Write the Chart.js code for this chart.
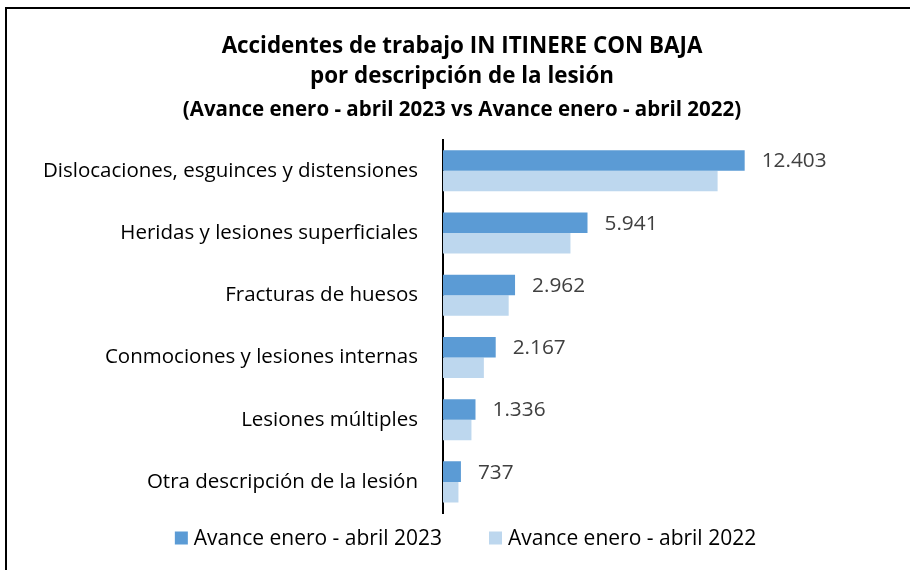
<!DOCTYPE html>
<html>
<head>
<meta charset="utf-8">
<script src="https://cdn.jsdelivr.net/npm/chart.js@4/dist/chart.umd.min.js"></script>
<style>
  html, body { margin: 0; padding: 0; background: #ffffff; }
  #wrap { width: 910px; height: 570px; position: relative; }
</style>
</head>
<body>
<div id="wrap"><canvas id="c" width="910" height="570"></canvas></div>
<script>
const categories = [
  "Dislocaciones, esguinces y distensiones",
  "Heridas y lesiones superficiales",
  "Fracturas de huesos",
  "Conmociones y lesiones internas",
  "Lesiones múltiples",
  "Otra descripción de la lesión"
];
const seriesNames = ["Avance enero - abril 2023", "Avance enero - abril 2022"];
const values2023 = [12403, 5941, 2962, 2167, 1336, 737];
const values2022 = [11290, 5240, 2700, 1680, 1170, 635];
const titleLines = ["Accidentes de trabajo IN ITINERE CON BAJA", "por descripción de la lesión"];
const subtitleText = "(Avance enero - abril 2023 vs Avance enero - abril 2022)";

const FONT = "'Open Sans', 'Noto Sans', Lato, sans-serif";
const colors = ["#5B9BD5", "#BDD7EE"];

// fit font sizes to the widths of the texts in the reference
const mctx = document.createElement("canvas").getContext("2d");
function fitSize(text, weight, target) {
  mctx.font = weight + " 100px " + FONT;
  return Math.round(100 * target / mctx.measureText(text).width * 10) / 10;
}
const labelSize = fitSize(categories[0], "normal", 376);
const titleSize = fitSize(titleLines[0], "bold", 480);
const subSize = fitSize(subtitleText, "bold", 557);
const valueSize = fitSize("12.403", "normal", 65);
const legendSize = fitSize(seriesNames[0], "normal", 248);

function fmt(v) {
  return String(v).replace(/\B(?=(\d{3})+(?!\d))/g, ".");
}

const framePlugin = {
  id: "frame",
  beforeDraw(chart) {
    const ctx = chart.ctx;
    ctx.save();
    ctx.fillStyle = "#ffffff";
    ctx.fillRect(0, 0, chart.width, chart.height);
    ctx.fillStyle = "#000000";
    ctx.fillRect(5, 7, chart.width - 5, 2);
    ctx.fillRect(5, 7, 2, chart.height - 7);
    ctx.restore();
  }
};

const labelPlugin = {
  id: "valueLabels",
  afterDatasetsDraw(chart) {
    const ctx = chart.ctx;
    const meta = chart.getDatasetMeta(0);
    ctx.save();
    ctx.font = valueSize + "px " + FONT;
    ctx.fillStyle = "#404040";
    ctx.textAlign = "left";
    ctx.textBaseline = "middle";
    meta.data.forEach((el, i) => {
      ctx.fillText(fmt(chart.data.datasets[0].data[i]), el.x + 17, el.y + 1);
    });
    ctx.restore();
  }
};

const legendPlugin = {
  id: "customLegend",
  afterDraw(chart) {
    const ctx = chart.ctx;
    ctx.save();
    ctx.font = legendSize + "px " + FONT;
    ctx.textBaseline = "middle";
    ctx.textAlign = "left";
    const box = 13, gapBoxText = 6, gapItems = 47;
    const items = chart.data.datasets.map(d => ({ text: d.label, color: d.backgroundColor }));
    let total = 0;
    items.forEach((it, i) => {
      it.w = box + gapBoxText + ctx.measureText(it.text).width;
      total += it.w + (i > 0 ? gapItems : 0);
    });
    let x = 465.5 - total / 2;
    const y = 538;
    items.forEach((it) => {
      ctx.fillStyle = it.color;
      ctx.fillRect(x, y - box / 2, box, box);
      ctx.fillStyle = "#000000";
      ctx.fillText(it.text, x + box + gapBoxText, y + 1);
      x += it.w + gapItems;
    });
    ctx.restore();
  }
};

new Chart(document.getElementById("c"), {
  type: "bar",
  data: {
    labels: categories,
    datasets: [
      { label: seriesNames[0], data: values2023, backgroundColor: colors[0], borderWidth: 0 },
      { label: seriesNames[1], data: values2022, backgroundColor: colors[1], borderWidth: 0 }
    ]
  },
  options: {
    indexAxis: "y",
    responsive: false,
    animation: false,
    devicePixelRatio: 1,
    layout: { padding: { top: 32, right: 0, bottom: 57, left: 14 } },
    datasets: { bar: { barPercentage: 1.0, categoryPercentage: 0.66 } },
    scales: {
      x: { display: false, min: 0, max: 19200 },
      y: {
        grid: { display: false, drawTicks: false },
        border: { display: true, color: "#000000", width: 2 },
        ticks: { color: "#000000", font: { family: FONT, size: labelSize }, padding: 25, autoSkip: false },
        afterFit(scale) { scale.width = 429; }
      }
    },
    plugins: {
      legend: { display: false },
      tooltip: { enabled: false },
      title: {
        display: true,
        text: titleLines,
        color: "#000000",
        font: { family: FONT, size: titleSize, weight: "bold", lineHeight: 30 / titleSize },
        padding: { top: 0, bottom: 2 }
      },
      subtitle: {
        display: true,
        text: subtitleText,
        color: "#000000",
        font: { family: FONT, size: subSize, weight: "bold", lineHeight: 1.4 },
        padding: { top: 2, bottom: 15 }
      }
    }
  },
  plugins: [framePlugin, labelPlugin, legendPlugin]
});
</script>
</body>
</html>
